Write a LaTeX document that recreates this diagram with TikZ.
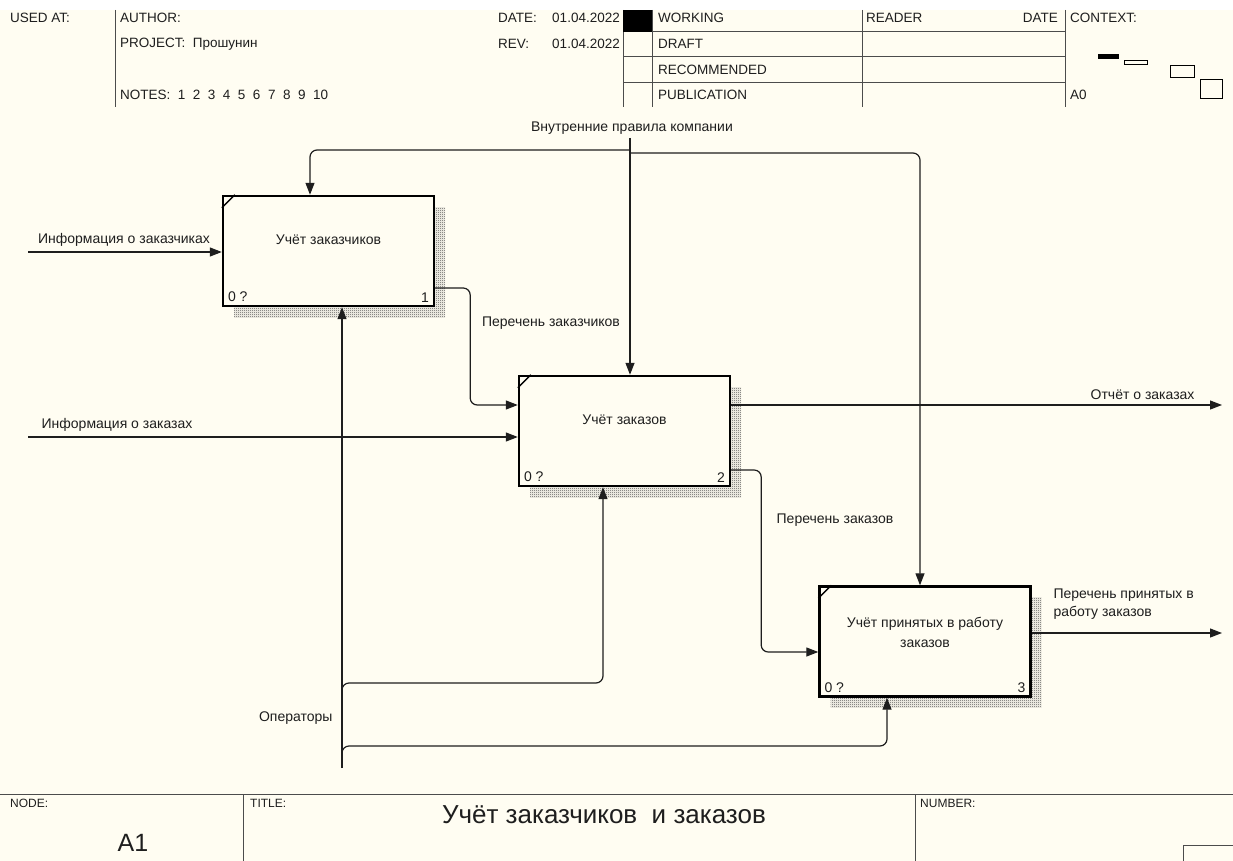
\documentclass[tikz,border=0pt]{standalone}
\usepackage{fontspec}
\setmainfont{Liberation Sans}
\usetikzlibrary{arrows.meta,patterns,shadows}
\definecolor{paper}{RGB}{255,253,242}
\definecolor{ink}{RGB}{30,30,30}
\pgfdeclarepatternformonly{checker}{\pgfpointorigin}{\pgfpoint{2pt}{2pt}}{\pgfpoint{2pt}{2pt}}{%
  \pgfpathrectangle{\pgfpointorigin}{\pgfpoint{1pt}{1pt}}%
  \pgfpathrectangle{\pgfpoint{1pt}{1pt}}{\pgfpoint{1pt}{1pt}}%
  \pgfusepath{fill}}

\begin{document}
\begin{tikzpicture}[x=1pt,y=-1pt,>={Triangle[length=12pt,width=9pt]},
  font=\fontsize{14}{16}\selectfont,text=ink,
  func/.style={draw=black,line width=2.4pt,fill=paper,minimum width=211pt,minimum height=110pt,inner sep=0pt,
    general shadow={shadow xshift=11pt,shadow yshift=-11pt,pattern=checker,pattern color=black!70}},
  arr/.style={->,line width=1.2pt,draw=ink,rounded corners=7pt},
  rule/.style={line width=1pt,draw=black!70},
  hdr/.style={font=\fontsize{13.5}{15}\selectfont,anchor=west,inner sep=0pt},
  small/.style={hdr,font=\fontsize{12}{14}\selectfont}]
  \fill[white] (0,0) rectangle (1233,861);
  \fill[paper] (0,10) rectangle (1233,861);
  \useasboundingbox (0,0) rectangle (1233,861);

  % header
  \foreach \x in {115,623,652,862,1065} \draw[rule] (\x,10) -- (\x,107);
  \foreach \y in {32,57,83} \draw[rule] (623,\y) -- (1065,\y);
  \fill[black] (623,10) rectangle (652,32);
  \node[hdr] (usedat) at (10,18) {USED AT:};
  \node[hdr] (author) at (120,18) {AUTHOR:};
  \node[hdr] (project) at (120,44) {PROJECT:\ \ Прошунин};
  \node[hdr] (notes) at (120,95) {NOTES:\ \ 1\ \ 2\ \ 3\ \ 4\ \ 5\ \ 6\ \ 7\ \ 8\ \ 9\ \ 10};
  \node[hdr] (datekey) at (498,18) {DATE:};
  \node[hdr,anchor=east] (dateval) at (620,18) {01.04.2022};
  \node[hdr] (revkey) at (498,44) {REV:};
  \node[hdr,anchor=east] (revval) at (620,44) {01.04.2022};
  \node[hdr] (working) at (658,18) {WORKING};
  \node[hdr] (draft) at (658,44) {DRAFT};
  \node[hdr] (recommended) at (658,70) {RECOMMENDED};
  \node[hdr] (publication) at (658,95) {PUBLICATION};
  \node[hdr] (reader) at (866,18) {READER};
  \node[hdr,anchor=east] (readdate) at (1058,18) {DATE};
  \node[hdr] (context) at (1070,18) {CONTEXT:};
  \node[hdr] (ctxnode) at (1070,95) {A0};
  \fill[black] (1098,54) rectangle (1119,59);
  \draw[line width=1pt] (1124,61) rectangle (1147,65);
  \draw[line width=1pt] (1170,66) rectangle (1194,78);
  \draw[line width=1pt] (1200,80) rectangle (1222,99);

  % function boxes
  \node[func] (uchet1) at (328.5,251) {};
  \node[func] (uchet2) at (624.5,431) {};
  \node[func] (uchet3) at (925,641.5) {};
  \node (name1) at ([yshift=11pt]uchet1.center) {Учёт заказчиков};
  \node (name2) at ([yshift=11pt]uchet2.center) {Учёт заказов};
  \node[align=center,font=\fontsize{14}{20}\selectfont] (name3) at ([yshift=9.5pt]uchet3.center) {Учёт принятых в работу\\заказов};
  \foreach \b/\n in {uchet1/1,uchet2/2,uchet3/3} {
    \draw[line width=1.5pt] ([yshift=-13pt]\b.north west) -- ([xshift=13pt]\b.north west);
    \node[anchor=south west,inner sep=0pt] (\b cost) at ([shift={(6pt,5pt)}]\b.south west) {0 ?};
    \node[anchor=south east,inner sep=0pt] (\b num) at ([shift={(-6pt,5pt)}]\b.south east) {\n};
  }

  % inputs
  \coordinate (in1) at (28,252);
  \coordinate (in2) at (28,437);
  \draw[arr] (in1) -- (in1 -| uchet1.west);
  \draw[arr] (in2) -- (in2 -| uchet2.west);
  \node (in1lbl) at (124,240) {Информация о заказчиках};
  \node (in2lbl) at (117,425) {Информация о заказах};

  % outputs
  \draw[arr] ([yshift=-37pt]uchet1.east) -- ++(35,0) |- ([yshift=26pt]uchet2.west);
  \node (lnk12) at (551,323) {Перечень заказчиков};
  \coordinate (out1) at (1222,405);
  \draw[arr] ([yshift=26pt]uchet2.east) -- (out1);
  \node[anchor=east] (out1lbl) at (1198,395) {Отчёт о заказах};
  \draw[arr] ([yshift=-39pt]uchet2.east) -- ++(30,0) |- ([yshift=-10.5pt]uchet3.west);
  \node (lnk23) at (835,520) {Перечень заказов};
  \coordinate (out2) at (1222,633);
  \draw[arr] ([yshift=8.5pt]uchet3.east) -- (out2);
  \node[anchor=north west,align=left,font=\fontsize{14}{18}\selectfont] (out2lbl) at (1050,585) {Перечень принятых в\\работу заказов};

  % controls
  \node (ctrl) at (632,128) {Внутренние правила компании};
  \coordinate (cj) at (630,150);
  \draw[arr] (ctrl.south -| cj) -- (cj |- uchet2.north);
  \draw[arr] (cj) -| ([xshift=-18.5pt]uchet1.north);
  \draw[arr] ([yshift=-3pt]cj) -| ([xshift=-5pt]uchet3.north);

  % mechanisms
  \coordinate (mech) at (342,768);
  \draw[arr] (mech) -- (mech |- uchet1.south);
  \node[anchor=east] (mechlbl) at (336,718) {Операторы};
  \draw[arr] ([yshift=73pt]mech) -- ++(0,-12) -| ([xshift=-21.5pt]uchet2.south);
  \draw[arr] ([yshift=11pt]mech) -- ++(0,-11) -| ([xshift=-38pt]uchet3.south);

  % footer
  \draw[rule] (0,794) -- (1233,794);
  \draw[rule] (243,794) -- (243,861);
  \draw[rule] (915,794) -- (915,861);
  \draw[rule] (1233,845) -- (1183,845) -- (1183,861);
  \node[small] (nodekey) at (10,803) {NODE:};
  \node[font=\fontsize{25}{28}\selectfont] (nodeval) at (133,843) {A1};
  \node[small] (titlekey) at (250,803) {TITLE:};
  \node[font=\fontsize{26}{30}\selectfont] (title) at (604,815) {Учёт заказчиков\ \ и заказов};
  \node[small] (numberkey) at (920,803) {NUMBER:};
\end{tikzpicture}
\end{document}
